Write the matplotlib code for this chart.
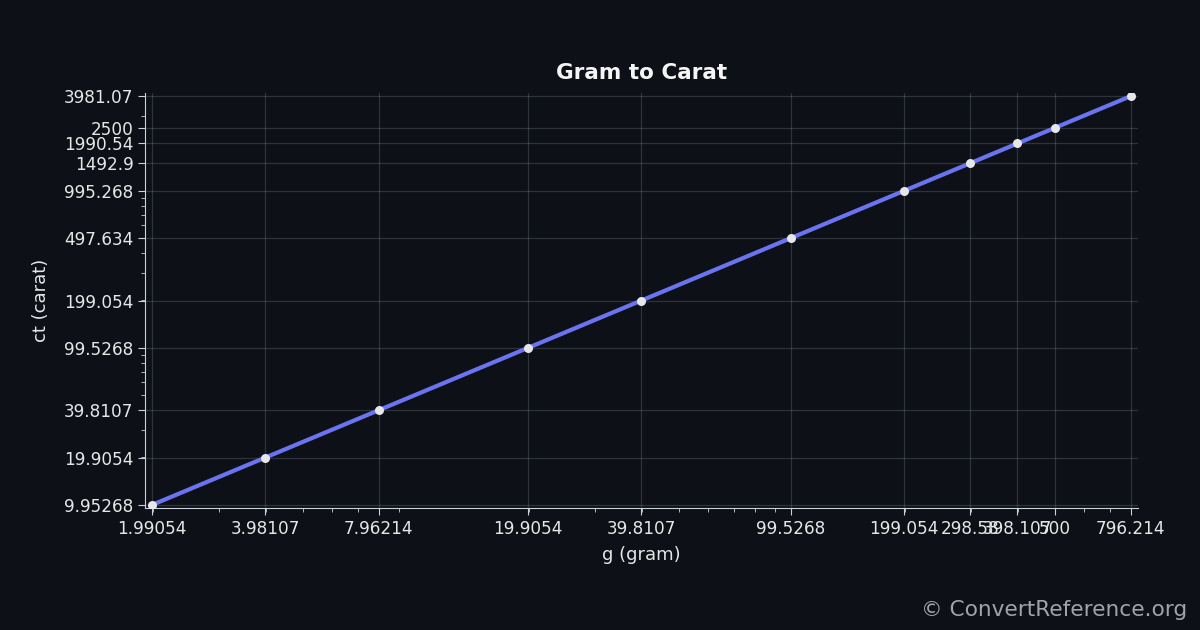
import matplotlib.pyplot as plt
import numpy as np

grams = [1.99054, 3.98107, 7.96214, 19.9054, 39.8107, 99.5268, 199.054, 298.58, 398.107, 500, 796.214]
carats = [9.95268, 19.9054, 39.8107, 99.5268, 199.054, 497.634, 995.268, 1492.9, 1990.54, 2500, 3981.07]
x_labels = ['1.99054', '3.98107', '7.96214', '19.9054', '39.8107', '99.5268', '199.054', '298.58', '398.107', '500', '796.214']
y_labels = ['9.95268', '19.9054', '39.8107', '99.5268', '199.054', '497.634', '995.268', '1492.9', '1990.54', '2500', '3981.07']

bg = '#0d1117'
fg = '#e6e6e6'

fig = plt.figure(figsize=(12, 6.3), dpi=100, facecolor=bg)
ax = fig.add_axes([0.121, 0.194, 0.827, 0.658], facecolor=bg)

ax.plot(grams, carats, color='#6b74f0', linewidth=3, zorder=3)
ax.scatter(grams, carats, s=42, color='#e5e7eb', zorder=4, linewidths=0)

ax.set_xscale('log')
ax.set_yscale('log')

lx = np.log10(grams)
ly = np.log10(carats)
px = (lx.max() - lx.min()) * 0.0072
py = (ly.max() - ly.min()) * 0.0073
ax.set_xlim(10 ** (lx.min() - px), 10 ** (lx.max() + px))
ax.set_ylim(10 ** (ly.min() - py), 10 ** (ly.max() + py))

ax.set_xticks(grams)
ax.set_xticklabels(x_labels)
ax.set_yticks(carats)
ax.set_yticklabels(y_labels)

ax.grid(True, which='major', color='#a3b0b0', alpha=0.22, linewidth=0.9)
ax.tick_params(which='both', colors='#c9d1d9', labelcolor=fg, labelsize=12.2)
ax.tick_params(which='major', length=5)
ax.tick_params(which='minor', length=3)

for s in ['top', 'right']:
    ax.spines[s].set_visible(False)
for s in ['left', 'bottom']:
    ax.spines[s].set_color('#c9d1d9')

ax.set_title('Gram to Carat', color='#f5f5f5', fontsize=15.5, fontweight='bold', pad=10)
ax.set_xlabel('g (gram)', color=fg, fontsize=13, labelpad=6)
ax.set_ylabel('ct (carat)', color=fg, fontsize=13, labelpad=10)

fig.text(0.989, 0.016, '© ConvertReference.org', color='#a0a4a8', fontsize=15.6, ha='right', va='bottom')

plt.savefig('out.png', dpi=100, facecolor=bg)
